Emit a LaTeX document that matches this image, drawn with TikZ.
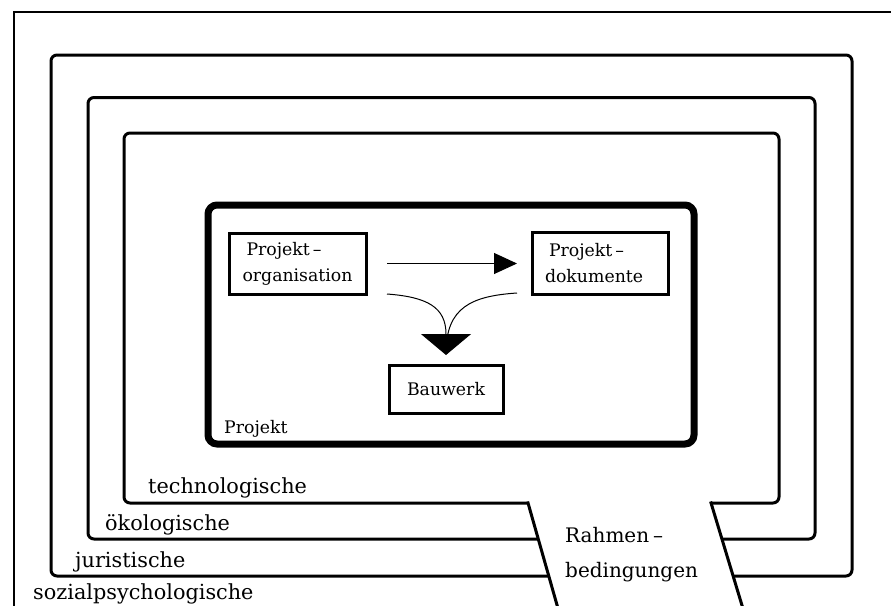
\documentclass[tikz,border=0pt]{standalone}
\usepackage{fontspec}
\setmainfont{DejaVu Serif}
\usetikzlibrary{arrows.meta,calc}
\begin{document}
\begin{tikzpicture}[x=1pt,y=-1pt,
  framepath/.style={line width=3pt, rounded corners=6pt},
  slant/.style={line width=3pt},
  ibox/.style={draw, line width=3pt, inner sep=0pt, outer sep=0pt, font=\fontsize{17.3}{26}\selectfont},
  ilbl/.style={anchor=base west, inner sep=0pt, font=\fontsize{17.3}{26}\selectfont},
  olbl/.style={anchor=base west, inner sep=0pt, font=\fontsize{20.8}{30}\selectfont},
  thinline/.style={line width=1pt},
]
\useasboundingbox (0,0) rectangle (891,605);
\clip (0,0) rectangle (891,605);
% outer frame
\draw[line width=2.5pt] (14,620) -- (14,12) -- (900,12);
% rectangles with gap
\draw[framepath] (548.5,576) -- (51,576) -- (51,55) -- (852,55) -- (852,576) -- (733,576);
\draw[framepath] (538.2,539) -- (88,539) -- (88,97.5) -- (815,97.5) -- (815,539) -- (722,539);
\draw[framepath] (528,503) -- (124,503) -- (124,133) -- (779,133) -- (779,503) -- (711,503);
\draw[slant] (527.6,501.5) -- (559,612);
\draw[slant] (710.6,501.5) -- (744,612);
% labels of the rings
\node[olbl] (tech) at (148,493) {technologische};
\node[olbl] (oeko) at (105,530) {ökologische};
\node[olbl] (juri) at (75,567) {juristische};
\node[olbl] (sozi) at (33,599) {sozialpsychologische};
\node[anchor=base west, inner sep=0pt, align=left, font=\fontsize{20}{35}\selectfont] (rahmen) at (565,577) {Rahmen\kern4pt--\\bedingungen};
% project box
\node[draw, line width=7pt, rounded corners=9pt, minimum width=486pt, minimum height=239pt, inner sep=0pt] (proj) at (451,324.5) {};
\node[ilbl] (projlbl) at (224,433) {Projekt};
% inner boxes
\node[ibox, text width=110pt, inner xsep=13.5pt, minimum height=61pt, align=left] (org) at (297.5,263.5) {\hspace{4pt}Projekt\kern3pt--\\organisation};
\node[ibox, text width=110pt, inner xsep=13pt, minimum height=62pt, align=left] (dok) at (600,263) {\hspace{4pt}Projekt\kern3pt--\\dokumente};
\node[ibox, minimum width=114pt, minimum height=48pt] (bau) at (446,389) {Bauwerk};
% connectors
\draw[thinline, -{Triangle[length=23pt,width=21pt]}, shorten <=21pt, shorten >=15pt] (org.east) -- (dok.west |- org.east);
\coordinate (cl) at ($(org.south east)+(21,0)$);
\coordinate (cr) at ($(dok.south west)+(-15,-1)$);
\draw[thinline, shorten >=12pt] (cr) .. controls +(-45,3) and +(0,-58) .. (bau.north);
\draw[thinline, -{Triangle[length=21pt,width=50pt]}, shorten >=10pt] (cl) .. controls +(40,3) and +(0,-58) .. (bau.north);
\end{tikzpicture}
\end{document}
